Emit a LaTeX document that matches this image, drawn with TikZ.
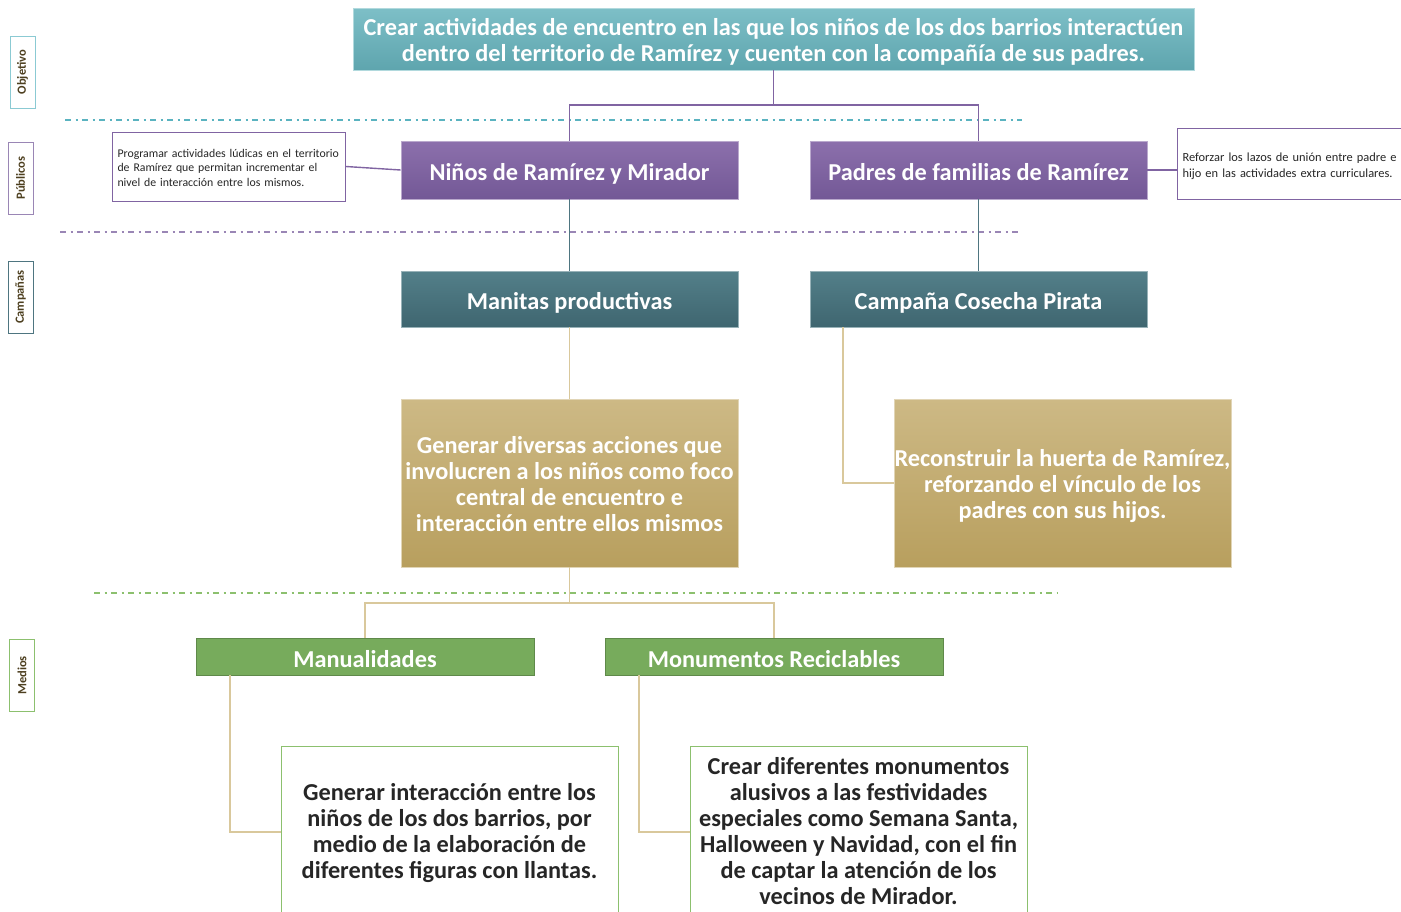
\documentclass[tikz,border=0pt]{standalone}
\usepackage{fontspec}
\setmainfont{Carlito}
\definecolor{tealA}{HTML}{7DBFC7}
\definecolor{tealB}{HTML}{5EA5AE}
\definecolor{purA}{HTML}{8C70AC}
\definecolor{purB}{HTML}{735896}
\definecolor{dtA}{HTML}{537F89}
\definecolor{dtB}{HTML}{3F6670}
\definecolor{tanA}{HTML}{CDB985}
\definecolor{tanB}{HTML}{B89F5E}
\definecolor{grn}{HTML}{77AB5C}
\definecolor{purline}{HTML}{8064A2}
\definecolor{tealdash}{HTML}{5AB3C0}
\definecolor{purdash}{HTML}{9A86B5}
\definecolor{grndash}{HTML}{8CC06E}
\definecolor{tanline}{HTML}{D9C89C}
\definecolor{dtline}{HTML}{4E7580}
\definecolor{lbltext}{HTML}{4D3F1F}
\definecolor{darktext}{HTML}{262626}
% centred lines, lowered by #1 without changing the box size
\newcommand{\lowc}[2]{\raisebox{-#1}[\height][\depth]{\begin{tabular}{@{}c@{}}#2\end{tabular}}}
\newcommand{\lowl}[2]{\raisebox{-#1}[\height][\depth]{\begin{tabular}{@{}l@{}}#2\end{tabular}}}
\begin{document}
\begin{tikzpicture}[x=1pt,y=-1pt,
  bigfont/.style={font=\bfseries\fontsize{24.3}{26}\selectfont},
  hdr/.style={rectangle, inner sep=0pt, text=white, bigfont,
    minimum width=337, minimum height=57},
  objbox/.style={hdr, top color=tealA, bottom color=tealB, draw=tealA!60!white, line width=0.8pt,
    minimum width=841, minimum height=62},
  pubbox/.style={hdr, top color=purA, bottom color=purB, draw=purA!60!white, line width=0.8pt, minimum height=58},
  cambox/.style={hdr, top color=dtA, bottom color=dtB, draw=dtA!60!white, line width=0.8pt, minimum height=56},
  tanbox/.style={hdr, top color=tanA, bottom color=tanB, draw=tanA!60!white, line width=0.8pt, minimum height=168},
  medbox/.style={hdr, fill=grn, draw=grn!80!black, line width=0.8pt, minimum width=338, minimum height=37},
  outbox/.style={rectangle, inner sep=0pt, bigfont, text=darktext, fill=white,
    draw=grndash, line width=1pt, minimum width=337, minimum height=172},
  smallbox/.style={rectangle, draw=purline, line width=1pt, fill=white, inner xsep=5pt, inner ysep=0pt,
    align=left, font=\fontsize{11.8}{14.5}\selectfont, text=black!85},
  sidelbl/.style={rectangle, rotate=90, line width=1pt, inner sep=0pt, minimum width=72, minimum height=25,
    text=lbltext, font=\bfseries\fontsize{12.5}{14}\selectfont},
  purconn/.style={draw=purline, line width=1.4pt},
  dtconn/.style={draw=dtline, line width=1.4pt},
  tanconn/.style={draw=tanline, line width=1.6pt},
  sepline/.style={line width=1.8pt, dash pattern=on 6pt off 4.5pt on 2pt off 4.5pt}
]
\useasboundingbox (0,0) rectangle (1401,911);
\clip (0,0) rectangle (1401,911);

% separator lines
\draw[sepline, tealdash] (65,120) -- (1022,120);
\draw[sepline, purdash] (60,232) -- (1022,232);
\draw[sepline, grndash] (94,593) -- (1057,593);

% side labels
\node[sidelbl, draw=tealdash!70] (lobj) at (22.5,72) {Objetivo};
\node[sidelbl, draw=purdash] (lpub) at (20.5,178) {Públicos};
\node[sidelbl, draw=dtline] (lcam) at (20.5,297) {Campañas};
\node[sidelbl, draw=grndash] (lmed) at (22,675.5) {Medios};

% main nodes
\node[objbox] (top) at (773.5,39) {\lowc{4.3pt}{Crear actividades de encuentro en las que los niños de los dos barrios interactúen\\dentro del territorio de Ramírez y cuenten con la compañía de sus padres.}};
\node[pubbox] (ninos) at (569.5,170) {\lowc{5.3pt}{Niños de Ramírez y Mirador}};
\node[pubbox] (padres) at (978.5,170) {\lowc{5.3pt}{Padres de familias de Ramírez}};
\node[smallbox, minimum width=233, minimum height=69, text width=223, anchor=west] (progr) at (112,166.5)
  {\lowl{2.3pt}{Programar actividades lúdicas en el territorio\\de Ramírez que permitan incrementar el\\nivel de interacción entre los mismos.}};
\node[smallbox, anchor=west, minimum width=245, minimum height=71, text width=235,
  font=\fontsize{12.4}{16}\selectfont] (refor) at (1177,163.5)
  {\lowl{3pt}{Reforzar los lazos de unión entre padre e\\hijo en las actividades extra curriculares.}};
\node[cambox] (manitas) at (569.5,299) {\lowc{4.8pt}{Manitas productivas}};
\node[cambox] (cosecha) at (978.5,299) {\lowc{4.8pt}{Campaña Cosecha Pirata}};
\node[tanbox] (generar) at (569.5,483) {\lowc{3.8pt}{Generar diversas acciones que\\involucren a los niños como foco\\central de encuentro e\\interacción entre ellos mismos}};
\node[tanbox] (recon) at (1062.5,483) {\lowc{4.3pt}{Reconstruir la huerta de Ramírez,\\reforzando el vínculo de los\\padres con sus hijos.}};
\node[medbox] (manual) at (365,656.5) {\lowc{5.3pt}{Manualidades}};
\node[medbox] (monum) at (774,656.5) {\lowc{5.3pt}{Monumentos Reciclables}};
\node[outbox] (gint) at (449.5,832) {\lowc{2.3pt}{Generar interacción entre los\\niños de los dos barrios, por\\medio de la elaboración de\\diferentes figuras con llantas.}};
\node[outbox] (crear) at (858.5,832) {\lowc{2.3pt}{Crear diferentes monumentos\\alusivos a las festividades\\especiales como Semana Santa,\\Halloween y Navidad, con el fin\\de captar la atención de los\\vecinos de Mirador.}};

% connectors
\coordinate (j1) at (773.5,105);
\draw[purconn] (top.south) -- (j1) -| (ninos.north);
\draw[purconn] (j1) -| (padres.north);
\draw[purconn] (progr.east) -- (ninos.west);
\draw[purconn] (padres.east) -- (padres.east -| refor.west);
\draw[dtconn] (ninos.south) -- (manitas.north);
\draw[dtconn] (padres.south) -- (cosecha.north);
\draw[tanconn] (manitas.south) -- (generar.north);
\draw[tanconn] ([xshift=-135.5]cosecha.south) |- (recon.west);
\coordinate (j2) at (569.5,603);
\draw[tanconn] (generar.south) -- (j2) -| (manual.north);
\draw[tanconn] (j2) -| (monum.north);
\draw[tanconn] ([xshift=-135]manual.south) |- (gint.west);
\draw[tanconn] ([xshift=-135]monum.south) |- (crear.west);
\end{tikzpicture}
\end{document}
